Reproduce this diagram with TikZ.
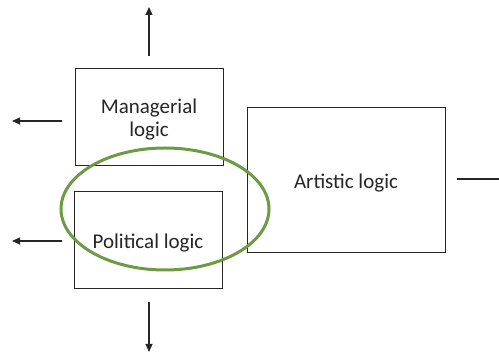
\documentclass[tikz,border=0pt]{standalone}
\usepackage{fontspec}
\setmainfont{Carlito}
\usetikzlibrary{arrows.meta}
\definecolor{boxline}{HTML}{262626}
\definecolor{txt}{HTML}{262626}
\definecolor{ellgreen}{HTML}{6F9A45}
\newcommand{\lowertext}[1]{\raisebox{-3pt}[\height][\depth]{#1}}
\tikzset{
  logicbox/.style={draw=boxline, line width=1pt, fill=white, inner sep=0pt, text=txt, align=center, font=\fontsize{21}{24}\selectfont},
  arr/.style={draw=boxline, line width=1.2pt, -{Triangle[length=8pt,width=7pt]}},
  plainline/.style={draw=boxline, line width=1.2pt}
}
\begin{document}
\begin{tikzpicture}[x=1pt,y=-1pt]
\useasboundingbox (0,0) rectangle (499,352);
\node[logicbox, minimum width=148pt, minimum height=97pt] (man) at (149,117.5) {\lowertext{\begin{tabular}{@{}c@{}}Managerial\\[-1pt]logic\end{tabular}}};
\node[logicbox, minimum width=148pt, minimum height=97pt] (pol) at (148,240.5) {\lowertext{Political logic}};
\node[logicbox, minimum width=198pt, minimum height=145pt] (art) at (346,180.5) {\lowertext{Artistic logic}};
\draw[ellgreen, line width=3pt] (165,209) ellipse [x radius=104, y radius=61];
\coordinate (upS) at (149,56);
\coordinate (upE) at (149,7);
\coordinate (mlS) at (62,121);
\coordinate (mlE) at (12,121);
\coordinate (plS) at (62,241);
\coordinate (plE) at (12,241);
\coordinate (dnS) at (149,302);
\coordinate (dnE) at (149,352);
\coordinate (rS) at (457,179);
\coordinate (rE) at (499,179);
\draw[arr] (upS) -- (upE);
\draw[arr] (mlS) -- (mlE);
\draw[arr] (plS) -- (plE);
\draw[arr] (dnS) -- (dnE);
\draw[plainline] (rS) -- (rE);
\end{tikzpicture}
\end{document}
